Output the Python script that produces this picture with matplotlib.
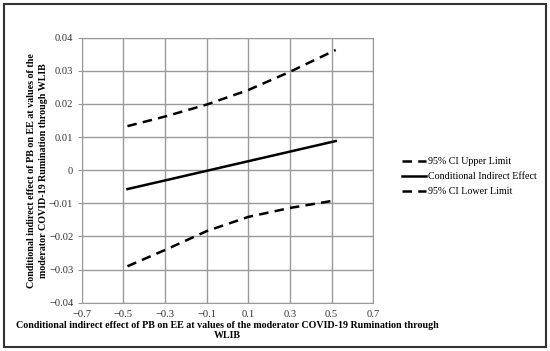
import matplotlib.pyplot as plt
from matplotlib.patches import Rectangle
from matplotlib.ticker import FuncFormatter

plt.rcParams['font.family'] = ['Liberation Serif', 'DejaVu Serif']

x_upper = [-0.48, -0.3, -0.1, 0.1, 0.3, 0.52]
upper = [0.0133, 0.0162, 0.0198, 0.0242, 0.0297, 0.0363]
x_effect = [-0.48, 0.52]
effect = [-0.0057, 0.0088]
x_lower = [-0.48, -0.3, -0.1, 0.1, 0.3, 0.5]
lower = [-0.0290, -0.0241, -0.0184, -0.0141, -0.0114, -0.0093]

x_ticks = [-0.7, -0.5, -0.3, -0.1, 0.1, 0.3, 0.5, 0.7]
y_ticks = [-0.04, -0.03, -0.02, -0.01, 0, 0.01, 0.02, 0.03, 0.04]


def fmt(v, pos):
    s = '%g' % round(v, 3)
    return s.replace('-', '\u2212')


fig = plt.figure(figsize=(5.5, 3.51), dpi=100)
ax = fig.add_axes([0.1485, 0.1376, 0.530, 0.755])

dash = (0, (3.8, 2.5))
ax.plot(x_upper, upper, color='black', lw=1.8, linestyle=dash, label='95% CI Upper Limit')
ax.plot(x_effect, effect, color='black', lw=1.8, label='Conditional Indirect Effect')
ax.plot(x_lower, lower, color='black', lw=1.8, linestyle=dash, label='95% CI Lower Limit')

ax.set_xlim(-0.7, 0.7)
ax.set_ylim(-0.04, 0.04)
ax.set_xticks(x_ticks)
ax.set_yticks(y_ticks)
ax.xaxis.set_major_formatter(FuncFormatter(fmt))
ax.yaxis.set_major_formatter(FuncFormatter(fmt))
ax.grid(True, color='#9a9a9a', lw=1)
ax.set_axisbelow(True)
for sp in ax.spines.values():
    sp.set_color('#9a9a9a')
ax.tick_params(axis='both', colors='#9a9a9a', labelcolor='#333333', labelsize=7.6, length=3)
ax.tick_params(axis='y', pad=3)
ax.tick_params(axis='x', length=0, pad=5)

ax.set_xlabel('Conditional indirect effect of PB on EE at values of the moderator COVID-19 Rumination through\nWLIB',
              fontsize=7.2, fontweight='bold', labelpad=1.5, linespacing=1.2)
ax.set_ylabel('Conditional indirect effect of PB on EE at values of the\nmoderator COVID-19 Rumination through WLIB',
              fontsize=7.2, fontweight='bold', labelpad=1, linespacing=1.3)

ax.legend(loc='center left', bbox_to_anchor=(1.083, 0.475), frameon=False, fontsize=7.2,
          handlelength=2.4, handletextpad=0.15, labelspacing=0.6, borderpad=0)

fig.patches.append(Rectangle((0.007, 0.011), 0.986, 0.977, transform=fig.transFigure,
                             fill=False, edgecolor='#333333', lw=1.5))

fig.savefig('out.png', dpi=100)
